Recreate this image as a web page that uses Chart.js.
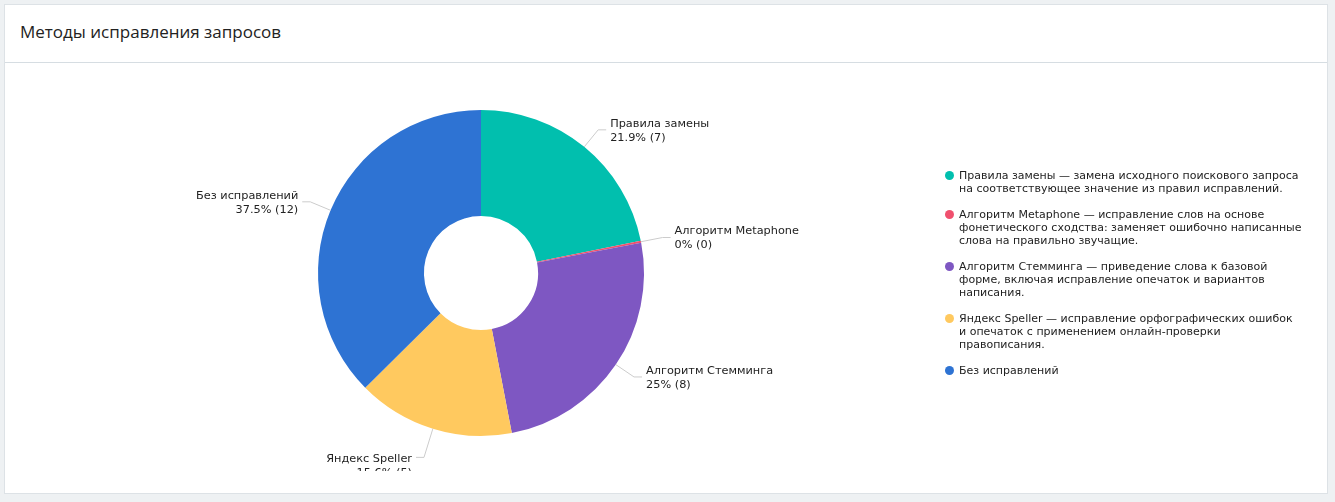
<!DOCTYPE html>
<html><head><meta charset="utf-8">
<script src="https://cdn.jsdelivr.net/npm/chart.js@4"></script>
<style>
body{margin:0;background:#eef1f3;font-family:"DejaVu Sans",Verdana,sans-serif;}
.card{position:absolute;left:4px;top:4px;width:1322px;height:488px;background:#fff;border:1px solid #dde2e6;}
.hdr{height:57px;border-bottom:1px solid #d6dde2;font-size:17px;color:#222;line-height:54px;padding-left:15px;font-family:"Open Sans","DejaVu Sans",sans-serif;}
.wrap{position:absolute;left:-4px;top:58px;width:960px;height:408px;overflow:hidden;}
#legend{position:absolute;left:940px;top:164px;width:360px;font-size:11px;color:#222;line-height:13px;}
.li{position:relative;padding-left:14px;margin-bottom:13px;}
.dot{position:absolute;left:0;top:2px;width:9px;height:9px;border-radius:50%;}
</style></head><body>
<div class="card"><div class="hdr">Методы исправления запросов</div>
<div class="wrap"><canvas id="c" width="960" height="420"></canvas></div>
<div id="legend"></div></div>
<script>
const labels=["Правила замены","Алгоритм Metaphone","Алгоритм Стемминга","Яндекс Speller","Без исправлений"];
const counts=[7,0,8,5,12];
const colors=["#01bfae","#f0506e","#7e57c2","#ffc95f","#2e73d3"];
const descriptions=[
"Правила замены — замена исходного поискового запроса на соответствующее значение из правил исправлений.",
"Алгоритм Metaphone — исправление слов на основе фонетического сходства: заменяет ошибочно написанные слова на правильно звучащие.",
"Алгоритм Стемминга — приведение слова к базовой форме, включая исправление опечаток и вариантов написания.",
"Яндекс Speller — исправление орфографических ошибок и\u00A0опечаток с применением онлайн-проверки правописания.",
"Без исправлений"];
const total=counts.reduce((a,b)=>a+b,0);
const shown=counts.map(v=>v===0?0.06:v);
const lg=document.getElementById('legend');
descriptions.forEach((d,i)=>{lg.innerHTML+=`<div class="li"><span class="dot" style="background:${colors[i]}"></span>${d}</div>`;});
const outLabels={id:'outLabels',afterDraw(ch){
 const ctx=ch.ctx;const meta=ch.getDatasetMeta(0);
 ctx.save();ctx.font='11.3px "DejaVu Sans", Verdana, sans-serif';ctx.fillStyle='#222';ctx.strokeStyle='#ccc';ctx.lineWidth=1;
 meta.data.forEach((a,i)=>{
  const m=(a.startAngle+a.endAngle)/2,r=a.outerRadius;
  const ext=Math.sin(m)>0.6?30:22;
  const x0=a.x+Math.cos(m)*r,y0=a.y+Math.sin(m)*r;
  const x1=a.x+Math.cos(m)*(r+ext),y1=a.y+Math.sin(m)*(r+ext);
  const right=Math.cos(m)>=0;const x2=x1+(right?8:-8);
  ctx.beginPath();ctx.moveTo(x0,y0);ctx.lineTo(x1,y1);ctx.lineTo(x2,y1);ctx.stroke();
  const pct=(Math.round(counts[i]/total*1000)/10)+'% ('+counts[i]+')';
  ctx.textAlign=right?'left':'right';ctx.textBaseline='middle';
  const tx=x2+(right?4:-4);
  const dy=Math.sin(m)>0.6?8:0;
  ctx.fillText(labels[i],tx,y1-6+dy);ctx.fillText(pct,tx,y1+8+dy);
 });ctx.restore();}};
new Chart(document.getElementById('c'),{type:'doughnut',
 data:{labels,datasets:[{data:shown,backgroundColor:colors,borderWidth:0}]},
 options:{responsive:false,animation:false,radius:163,cutout:'35%',layout:{padding:0},plugins:{legend:{display:false},tooltip:{enabled:false}}},
 plugins:[outLabels]});
</script></body></html>
